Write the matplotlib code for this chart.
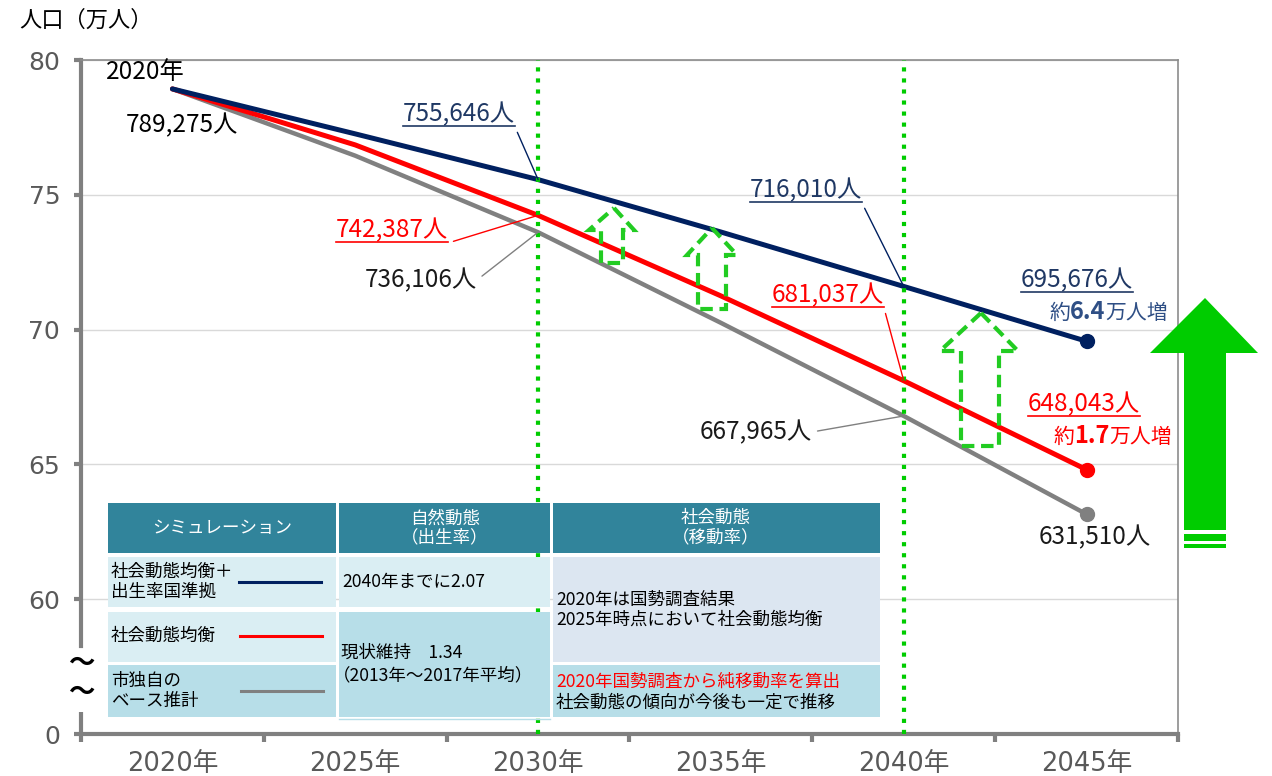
import matplotlib.pyplot as plt
from matplotlib.patches import Polygon, Rectangle
from matplotlib.lines import Line2D
from matplotlib.text import Text
import numpy as np

plt.rcParams['font.family'] = ['Noto Sans CJK JP', 'DejaVu Sans']

# === データ（万人） ===
years = [2020, 2025, 2030, 2035, 2040, 2045]
year_labels = ['2020年', '2025年', '2030年', '2035年', '2040年', '2045年']
pop_target = [78.9275, 77.26, 75.5646, 73.62, 71.6010, 69.5676]   # 社会動態均衡＋出生率国準拠
pop_balance = [78.9275, 76.85, 74.2387, 71.25, 68.1037, 64.8043]  # 社会動態均衡
pop_base = [78.9275, 76.45, 73.6106, 70.25, 66.7965, 63.1510]     # 市独自のベース推計
y_ticks = [55, 60, 65, 70, 75, 80]
y_tick_labels = ['0', '60', '65', '70', '75', '80']

NAVY = '#002060'
RED = '#FF0000'
GRAY = '#808080'
GREEN = '#00CC00'
AXIS = '#808080'

W, H = 1272, 776


def P(x, y):
    # 画像ピクセル(左上原点) -> figure座標
    return (x / W, 1 - y / H)


def fmt(v):
    return f'{round(v * 10000):,}人'


fig = plt.figure(figsize=(W / 100, H / 100), dpi=100)
ax = fig.add_axes([81 / W, 1 - 734 / H, (1178 - 81) / W, (734 - 60) / H])
ax.set_xlim(2017.5, 2047.5)
ax.set_ylim(55, 80)

# 軸まわり
ax.set_xticks(years, year_labels)
ax.set_xticks(np.arange(2017.5, 2048, 5), minor=True)
ax.tick_params(axis='x', which='major', length=0, pad=12, labelsize=18.5, labelcolor='#595959')
ax.tick_params(axis='x', which='minor', length=6, width=3, color=AXIS)
ax.set_yticks(y_ticks, y_tick_labels)
ax.tick_params(axis='y', length=5, width=3, color=AXIS, labelsize=18, labelcolor='#595959', pad=10)
for lbl in ax.get_xticklabels() + ax.get_yticklabels():
    lbl.set_family(['DejaVu Sans', 'Noto Sans CJK JP'])
ax.grid(axis='y', color='#D9D9D9', lw=1)
ax.set_axisbelow(True)
for s in ['top', 'right']:
    ax.spines[s].set_color('#8C8C8C')
    ax.spines[s].set_linewidth(1.2)
for s in ['left', 'bottom']:
    ax.spines[s].set_color(AXIS)
    ax.spines[s].set_linewidth(3)
# 縦軸の省略（波線）
ax.spines['left'].set_bounds(58.25, 80)
ax.plot([2017.5, 2017.5], [55, 55.8], color=AXIS, lw=3, clip_on=False, solid_capstyle='butt')
ax.text(2017.5, 57.6, '～', ha='center', va='center', fontsize=19, fontweight='bold', clip_on=False)
ax.text(2017.5, 56.55, '～', ha='center', va='center', fontsize=19, fontweight='bold', clip_on=False)

fig.text(*P(19, 20), '人口（万人）', fontsize=16, va='center', ha='left')

# 推計線
ax.plot(years, pop_base, color=GRAY, lw=3.2, zorder=3, solid_capstyle='round')
ax.plot(years, pop_balance, color=RED, lw=3.6, zorder=3, solid_capstyle='round')
ax.plot(years, pop_target, color=NAVY, lw=3.6, zorder=3, solid_capstyle='round')
ax.plot(years[-1], pop_base[-1], 'o', color=GRAY, ms=10, zorder=4)
ax.plot(years[-1], pop_balance[-1], 'o', color=RED, ms=10, zorder=4)
ax.plot(years[-1], pop_target[-1], 'o', color=NAVY, ms=10, zorder=4)

# 2030年・2040年の縦線
for yr in [2030, 2040]:
    ax.axvline(yr, color=GREEN, ls=':', lw=3, zorder=4)


# 点線の矢印
def arrow_shape(tx, ty, hl, hr, hy, sl, sr, by):
    return [P(tx, ty), P(hr, hy), P(sr, hy), P(sr, by), P(sl, by), P(sl, hy), P(hl, hy)]


for a in [(614, 208, 589, 634, 230, 601, 623, 263),
          (712, 228, 687, 737, 255, 698, 726, 309),
          (981, 313, 940, 1018, 351, 961, 999, 446)]:
    ax.add_patch(Polygon(arrow_shape(*a), closed=True, fill=False, ec='#22CC22',
                         lw=3, ls=(0, (3, 1.6)), transform=fig.transFigure, zorder=5))

# 右側の大きな矢印
fig.add_artist(Polygon(arrow_shape(1205, 298, 1150, 1258, 353, 1184, 1226, 530),
                       closed=True, fc=GREEN, ec='none', transform=fig.transFigure))
for y0, y1 in [(534, 541), (544, 548)]:
    fig.add_artist(Rectangle(P(1184, y1), 42 / W, (y1 - y0) / H, fc=GREEN, ec='none',
                             transform=fig.transFigure))

# データラベル
LBL = 17.5
fig.text(*P(145, 72), '2020年', fontsize=LBL, ha='center', va='center')
fig.text(*P(182, 125), fmt(pop_target[0]), fontsize=LBL, ha='center', va='center')

underlined = []
labels = [
    (pop_target, 2, (515, 127), 'bottom', NAVY, '#1F3864', True),
    (pop_balance, 2, (448, 243), 'bottom', RED, RED, True),
    (pop_base, 2, (477, 280), 'center', GRAY, '#1a1a1a', False),
    (pop_target, 4, (862, 203), 'bottom', NAVY, '#1F3864', True),
    (pop_balance, 4, (884, 308), 'bottom', RED, RED, True),
    (pop_base, 4, (812, 432), 'center', GRAY, '#1a1a1a', False),
]
for series, i, (tx, ty), va, lc, tc, ul in labels:
    t = ax.annotate(fmt(series[i]), xy=(years[i], series[i]), xytext=(tx, H - ty),
                    textcoords='figure pixels', ha='right', va=va, fontsize=LBL, color=tc,
                    arrowprops=dict(arrowstyle='-', color=lc, lw=1,
                                    relpos=(1, 0) if va == 'bottom' else (1, 0.5),
                                    shrinkA=2, shrinkB=0), zorder=6)
    if ul:
        underlined.append((t, tc))

t = fig.text(*P(1133, 293), fmt(pop_target[-1]), fontsize=LBL, ha='right', va='bottom', color='#203864')
underlined.append((t, '#203864'))
t = fig.text(*P(1140, 417), fmt(pop_balance[-1]), fontsize=LBL, ha='right', va='bottom', color=RED)
underlined.append((t, RED))
fig.text(*P(1095, 537), fmt(pop_base[-1]), fontsize=LBL, ha='center', va='center', color='#1a1a1a')

# 凡例の表
tbl = [
    # x0, y0, x1, y1, 色
    (108, 503, 336, 553, '#31849B'),
    (339, 503, 550, 553, '#31849B'),
    (553, 503, 880, 553, '#31849B'),
    (108, 557, 336, 607, '#DAEEF3'),
    (108, 612, 336, 662, '#DAEEF3'),
    (108, 665, 336, 717, '#B7DEE8'),
    (339, 557, 550, 607, '#DAEEF3'),
    (339, 612, 550, 717, '#B7DEE8'),
    (553, 557, 880, 662, '#DCE6F1'),
    (553, 665, 880, 717, '#B7DEE8'),
]
for x0, y0, x1, y1, c in tbl:
    ax.add_patch(Rectangle(P(x0, y1), (x1 - x0) / W, (y1 - y0) / H, fc=c, ec='none',
                           transform=fig.transFigure, zorder=7))
ax.add_line(Line2D([339 / W, 550 / W], [1 - 719 / H] * 2, color='#B7DEE8', lw=1,
                   transform=fig.transFigure, zorder=7))

cell_kw = dict(transform=fig.transFigure, zorder=8, fontsize=12.6, linespacing=1.1)
ax.text(*P(222, 528), 'シミュレーション', ha='center', va='center', color='white', **cell_kw)
ax.text(*P(445, 528), '自然動態\n（出生率）', ha='center', va='center', color='white', **cell_kw)
ax.text(*P(716, 528), '社会動態\n（移動率）', ha='center', va='center', color='white', **cell_kw)
ax.text(*P(111, 582), '社会動態均衡＋\n出生率国準拠', ha='left', va='center', **cell_kw)
ax.text(*P(111, 636), '社会動態均衡', ha='left', va='center', **cell_kw)
ax.text(*P(111, 691), '市独自の\nベース推計', ha='left', va='center', **cell_kw)
ax.text(*P(342, 582), '2040年までに2.07', ha='left', va='center', **cell_kw)
ax.text(*P(341, 653), '現状維持　1.34', ha='left', va='center', **cell_kw)
ax.text(*P(333, 675), '（2013年～2017年平均）', ha='left', va='center', **cell_kw)
ax.text(*P(556, 610), '2020年は国勢調査結果\n2025年時点において社会動態均衡', ha='left', va='center', **cell_kw)
ax.text(*P(556, 682), '2020年国勢調査から純移動率を算出', ha='left', va='center', color=RED, **cell_kw)
ax.text(*P(556, 703), '社会動態の傾向が今後も一定で推移', ha='left', va='center', **cell_kw)
for (x0, x1, y), c, lw in [((239, 321, 582), NAVY, 2.2), ((240, 322, 636), RED, 2.2),
                           ((241, 323, 691), GRAY, 2.2)]:
    ax.add_line(Line2D([x0 / W, x1 / W], [1 - y / H] * 2, color=c, lw=lw,
                       transform=fig.transFigure, zorder=8))

# 下線と「約○万人増」
renderer = fig.canvas.get_renderer()
for t, c in underlined:
    bb = Text.get_window_extent(t, renderer)
    fig.add_artist(Line2D([bb.x0 / W, bb.x1 / W], [(bb.y0 + 1) / H] * 2, color=c, lw=1.2))


def rich_text(x_right, y_base, parts, color):
    texts, widths = [], []
    for s, size, weight in parts:
        tt = fig.text(0, 0, s, fontsize=size, fontweight=weight, color=color, va='baseline')
        widths.append(tt.get_window_extent(renderer).width)
        texts.append(tt)
    x = x_right - sum(widths)
    for tt, wd in zip(texts, widths):
        tt.set_position(P(x, y_base))
        x += wd


gain_target = round(pop_target[-1] - pop_base[-1], 1)
gain_balance = round(pop_balance[-1] - pop_base[-1], 1)
rich_text(1168, 319, [('約', 15, 'normal'), (f'{gain_target}', 17, 'bold'), ('万人増', 15, 'normal')], '#2F4F85')
rich_text(1172, 443, [('約', 15, 'normal'), (f'{gain_balance}', 17, 'bold'), ('万人増', 15, 'normal')], RED)

fig.savefig('out.png', dpi=100)
